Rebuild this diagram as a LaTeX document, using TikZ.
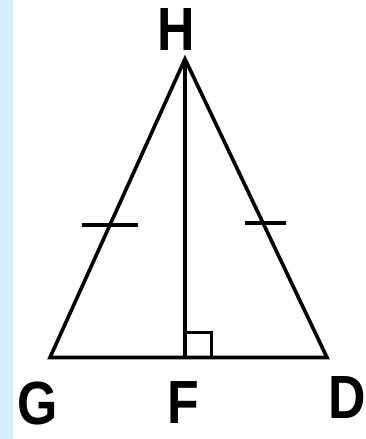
\documentclass[tikz,border=0pt]{standalone}
\usepackage{fontspec}
\setmainfont{Liberation Sans}
\usepackage{tikz}
\definecolor{stripblue}{RGB}{214,236,255}
\usetikzlibrary{positioning,calc}
\tikzset{
  vertexlabel/.style={font=\bfseries\fontsize{61}{61}\selectfont, inner sep=0pt, xscale=0.85, transform shape},
  side/.style={line width=3.6pt, line join=miter},
  tick/.style={line width=3.4pt}
}

\begin{document}
\begin{tikzpicture}[x=1pt,y=-1pt]
  \useasboundingbox (0,0) rectangle (366,439);
  \fill[white] (0,0) rectangle (366,439);
  \fill[stripblue] (0,0) rectangle (13,439);
  \coordinate (H) at (185,59);
  \coordinate (G) at (50,357.5);
  \coordinate (D) at (327,357.5);
  \coordinate (F) at (185,357.5);
  \coordinate (tickL) at ($(G)!0.444!(H)$);
  \coordinate (tickR) at ($(D)!0.45!(H)$);
  \draw[side] (G) -- (H) -- (D) -- cycle;
  \draw[side] (H) -- (F);
  \draw[line width=3pt] ($(F)+(0,-25)$) -- ++(26,0) -- ++(0,25);
  \draw[tick] ($(tickL)+(-28,0)$) -- ($(tickL)+(28,0)$);
  \draw[tick] ($(tickR)+(-18,0)$) -- ($(tickR)+(23,0)$);
  \node[vertexlabel] (labH) at (176.5,30) {H};
  \node[vertexlabel] (labG) at (38,403) {G};
  \node[vertexlabel] (labF) at (183,403) {F};
  \node[vertexlabel] (labD) at (347,398) {D};
\end{tikzpicture}
\end{document}
